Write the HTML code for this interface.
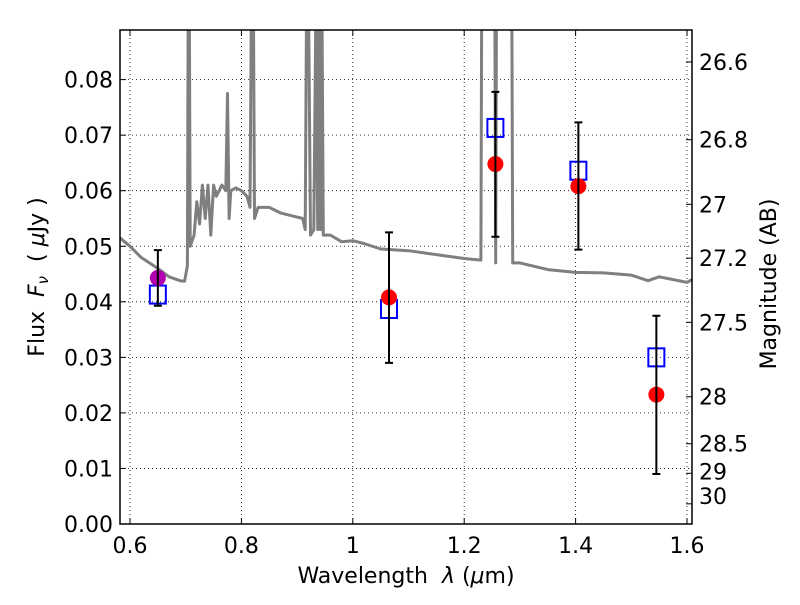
<!DOCTYPE html>
<html><head><meta charset="utf-8"><style>
html,body{margin:0;padding:0;background:#fff;}
svg text{font-family:"DejaVu Sans","Liberation Sans",sans-serif;fill:#000;}
</style></head><body>
<svg id="chart" width="800" height="600" xmlns="http://www.w3.org/2000/svg"></svg>
<script>
const specLam=[0.582,0.6,0.62,0.65,0.67,0.69,0.698,0.703,0.7045,0.7065,0.708,0.715,0.72,0.725,0.73,0.735,0.74,0.745,0.75,0.755,0.765,0.772,0.775,0.778,0.781,0.79,0.80,0.81,0.8155,0.818,0.8215,0.8235,0.83,0.85,0.87,0.89,0.91,0.9145,0.917,0.9205,0.924,0.93,0.934,0.937,0.939,0.942,0.9445,0.947,0.96,0.98,1.0,1.02,1.05,1.1,1.15,1.2,1.23,1.2315,1.2325,1.255,1.2565,1.258,1.2595,1.2855,1.287,1.3,1.35,1.4,1.45,1.5,1.53,1.55,1.6,1.609];
const specFlux=[0.0515,0.050,0.048,0.046,0.0445,0.0438,0.0437,0.0465,0.095,0.095,0.050,0.052,0.058,0.054,0.061,0.055,0.061,0.052,0.061,0.059,0.061,0.060,0.0775,0.055,0.060,0.0605,0.060,0.059,0.057,0.095,0.095,0.055,0.057,0.057,0.056,0.0555,0.055,0.053,0.095,0.095,0.052,0.053,0.095,0.053,0.095,0.053,0.095,0.052,0.052,0.0508,0.051,0.0505,0.0495,0.0492,0.0485,0.0478,0.0475,0.095,0.095,0.095,0.047,0.095,0.095,0.095,0.047,0.047,0.0458,0.0453,0.0452,0.0448,0.0438,0.0445,0.0435,0.044];
const ptLam=[0.65,1.065,1.256,1.405,1.545];
const ptFlux=[0.0443,0.0408,0.0648,0.0608,0.0233];
const ptColor=["#b000b0","red","red","red","red"];
const sqFlux=[0.0413,0.0387,0.0713,0.0636,0.0300];
const errLo=[0.0393,0.0290,0.0517,0.0494,0.0090];
const errHi=[0.0493,0.0525,0.0778,0.0723,0.0375];
const xTicks=[0.6,0.8,1.0,1.2,1.4,1.6];
const xTickLabels=["0.6","0.8","1","1.2","1.4","1.6"];
const yTicks=[0,0.01,0.02,0.03,0.04,0.05,0.06,0.07,0.08];
const yTickLabels=["0.00","0.01","0.02","0.03","0.04","0.05","0.06","0.07","0.08"];
const magTicks=[26.6,26.8,27,27.2,27.5,28,28.5,29,30];
const magLabels=["26.6","26.8","27","27.2","27.5","28","28.5","29","30"];

const L=120,R=692,T=30,B=524;
const X=v=>130+(v-0.6)*557;
const Y=v=>524-v*5555;
const NS="http://www.w3.org/2000/svg";
const svg=document.getElementById('chart');
function mk(tag,attrs,parent){const e=document.createElementNS(NS,tag);for(const k in attrs)e.setAttribute(k,attrs[k]);(parent||svg).appendChild(e);return e;}

const defs=mk('defs',{});
const cp=mk('clipPath',{id:'clip'},defs);
mk('rect',{x:L,y:T,width:R-L,height:B-T},cp);

const grid=mk('g',{stroke:'#000','stroke-width':0.8,'stroke-dasharray':'1,3'});


xTicks.forEach(v=>{mk('line',{x1:X(v),x2:X(v),y1:T,y2:B},grid);});
yTicks.forEach(v=>{mk('line',{x1:L,x2:R,y1:Y(v),y2:Y(v)},grid);});

const g=mk('g',{'clip-path':'url(#clip)'});
let d=specLam.map((l,i)=>(i?'L':'M')+X(l).toFixed(1)+','+Y(specFlux[i]).toFixed(1)).join('');
const spec=mk('path',{d:d,fill:'none',stroke:'#7f7f7f','stroke-width':3,'stroke-linejoin':'round'},g);



ptLam.forEach((l,i)=>{
  const x=X(l);
  const sq=mk('rect',{x:x-8,y:Y(sqFlux[i])-9,width:16,height:18,fill:'none',stroke:'blue','stroke-width':2},g);
  
  
  const c=mk('circle',{cx:x,cy:Y(ptFlux[i]),r:8,fill:ptColor[i]},g);
  
  
  const eb=mk('path',{d:`M${x},${Y(errLo[i])}V${Y(errHi[i])}M${x-4},${Y(errLo[i])}h8M${x-4},${Y(errHi[i])}h8`,stroke:'#000','stroke-width':2,fill:'none'},g);
  
  
});

const frame=mk('rect',{x:L,y:T,width:R-L,height:B-T,fill:'none',stroke:'#000','stroke-width':1.5});



xTicks.forEach((v,i)=>{
  mk('line',{x1:X(v),x2:X(v),y1:B,y2:B-6,stroke:'#000'});
  mk('line',{x1:X(v),x2:X(v),y1:T,y2:T+6,stroke:'#000'});
  const t=mk('text',{x:X(v),y:553,'font-size':22,'text-anchor':'middle'});t.textContent=xTickLabels[i];
  
  
});
yTicks.forEach((v,i)=>{
  mk('line',{x1:L,x2:L+6,y1:Y(v),y2:Y(v),stroke:'#000'});
  const t=mk('text',{x:113,y:Y(v)+8,'font-size':22,'text-anchor':'end'});t.textContent=yTickLabels[i];
  
  
});
magTicks.forEach((m,i)=>{
  const y=Y(Math.pow(10,(23.9-m)/2.5));
  mk('line',{x1:R,x2:R-6,y1:y,y2:y,stroke:'#000'});
  let ly=y+8; if(m===30) ly=y; if(m===29) ly=y+6;
  const t=mk('text',{x:699,y:ly,'font-size':22});t.textContent=magLabels[i];
  
  
});

const xt=mk('text',{x:406,y:583,'font-size':22,'text-anchor':'middle'});
xt.innerHTML='Wavelength&#160;&#160;<tspan font-style="italic">λ</tspan> (<tspan font-style="italic">μ</tspan>m)';


const yt=mk('text',{x:0,y:0,'font-size':22,'text-anchor':'middle',transform:'translate(44,277) rotate(-90)'});
yt.innerHTML='Flux&#160;&#160;<tspan font-style="italic">F</tspan><tspan font-style="italic" font-size="15" dy="4">ν</tspan><tspan dy="-4">&#160;&#160;(&#160;</tspan><tspan font-style="italic">μ</tspan>Jy )';


const rt=mk('text',{x:0,y:0,'font-size':22,'text-anchor':'middle',transform:'translate(776,284) rotate(-90)'});
rt.textContent='Magnitude (AB)';


</script>
</body></html>
